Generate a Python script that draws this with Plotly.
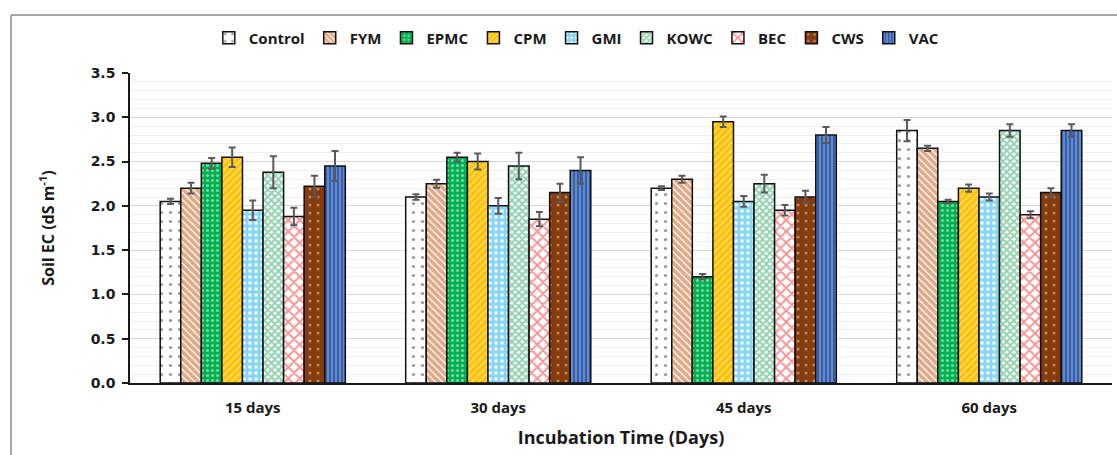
import plotly.graph_objects as go

# Incubation periods on the x axis
periods = ["15 days", "30 days", "45 days", "60 days"]

# Soil EC (dS m-1) per amendment, one value per incubation period
control = [2.05, 2.10, 2.20, 2.85]
fym = [2.20, 2.25, 2.30, 2.65]
epmc = [2.48, 2.55, 1.20, 2.05]
cpm = [2.55, 2.50, 2.95, 2.20]
gmi = [1.95, 2.00, 2.05, 2.10]
kowc = [2.38, 2.45, 2.25, 2.85]
bec = [1.88, 1.85, 1.95, 1.90]
cws = [2.22, 2.15, 2.10, 2.15]
vac = [2.45, 2.40, 2.80, 2.85]

# Standard errors
control_err = [0.03, 0.03, 0.02, 0.12]
fym_err = [0.06, 0.045, 0.04, 0.03]
epmc_err = [0.06, 0.05, 0.03, 0.02]
cpm_err = [0.11, 0.09, 0.06, 0.04]
gmi_err = [0.11, 0.09, 0.06, 0.04]
kowc_err = [0.18, 0.15, 0.10, 0.07]
bec_err = [0.10, 0.08, 0.06, 0.04]
cws_err = [0.12, 0.10, 0.07, 0.05]
vac_err = [0.17, 0.15, 0.09, 0.07]

series = [
    ("Control", control, control_err, dict(shape=".", bgcolor="#FFFFFF", fgcolor="#303030", size=9, solidity=0.1)),
    ("FYM", fym, fym_err, dict(shape="\\", bgcolor="#FFFFFF", fgcolor="#C0550F", size=5, solidity=0.75)),
    ("EPMC", epmc, epmc_err, dict(shape=".", bgcolor="#00B050", fgcolor="#E6FFEE", size=5, solidity=0.3)),
    ("CPM", cpm, cpm_err, dict(shape="/", bgcolor="#FFC000", fgcolor="#FFF4C8", size=5, solidity=0.4)),
    ("GMI", gmi, gmi_err, dict(shape="+", bgcolor="#FFFFFF", fgcolor="#12ADEB", size=6, solidity=0.75)),
    ("KOWC", kowc, kowc_err, dict(shape="x", bgcolor="#FFFFFF", fgcolor="#2FA865", size=5, solidity=0.65)),
    ("BEC", bec, bec_err, dict(shape="x", bgcolor="#FFFFFF", fgcolor="#EE2E2E", size=8, solidity=0.45)),
    ("CWS", cws, cws_err, dict(shape=".", bgcolor="#843C0C", fgcolor="#FBD2B0", size=8, solidity=0.12)),
    ("VAC", vac, vac_err, dict(shape="|", bgcolor="#345FAF", fgcolor="#C5DAF2", size=4, solidity=0.35)),
]

fig = go.Figure()
for name, vals, errs, pat in series:
    fig.add_trace(go.Bar(
        name=name,
        x=periods,
        y=vals,
        marker=dict(pattern=pat, color=pat["bgcolor"], line=dict(color="#111111", width=1.5)),
        error_y=dict(type="data", array=errs, visible=True, color="#5A5A5A", thickness=2, width=3.5),
    ))

# Outer frame around the chart
fig.add_shape(type="line", xref="paper", yref="paper", x0=-0.1212, x1=-0.1212, y0=-0.4, y1=1.187,
              line=dict(color="#A6A6A6", width=2))
fig.add_shape(type="line", xref="paper", yref="paper", x0=-0.1212, x1=1.02, y0=1.187, y1=1.187,
              line=dict(color="#A6A6A6", width=2))

fig.update_layout(
    width=1117,
    height=455,
    margin=dict(l=130, r=5, t=73, b=72),
    paper_bgcolor="white",
    plot_bgcolor="white",
    barmode="group",
    bargap=0.246,
    bargroupgap=0,
    font=dict(family="Open Sans", color="#1A1A1A"),
    legend=dict(
        orientation="h",
        x=0.455, xanchor="center",
        y=1.113, yanchor="middle",
        font=dict(family="Open Sans", size=15, weight="bold", color="#1A1A1A"),
        itemwidth=30,
        bgcolor="rgba(0,0,0,0)",
    ),
    xaxis=dict(
        showline=True, linecolor="#1A1A1A", linewidth=1.5,
        ticks="", showgrid=False,
        ticklabelstandoff=10,
        tickfont=dict(family="Open Sans", size=15, weight="bold", color="#1A1A1A"),
        title=dict(text="Incubation Time (Days)", standoff=16,
                   font=dict(family="Open Sans", size=18, weight="bold", color="#1A1A1A")),
    ),
    yaxis=dict(
        range=[0, 3.5],
        dtick=0.5,
        tickformat=".1f",
        showline=True, linecolor="#1A1A1A", linewidth=1.5,
        ticks="outside", ticklen=6, tickcolor="#1A1A1A", tickwidth=1.5,
        ticklabelstandoff=4,
        showgrid=True, gridcolor="#D6D6D6", gridwidth=1,
        minor=dict(dtick=0.1, showgrid=True, gridcolor="#EFEFEF", gridwidth=1),
        zeroline=False,
        tickfont=dict(family="DejaVu Sans", size=14, weight="bold", color="#1A1A1A"),
        title=dict(text="Soil EC (dS m<sup>-1</sup>)", standoff=32,
                   font=dict(family="Open Sans", size=16, weight="bold", color="#1A1A1A")),
    ),
)

fig.write_html("out.html")
